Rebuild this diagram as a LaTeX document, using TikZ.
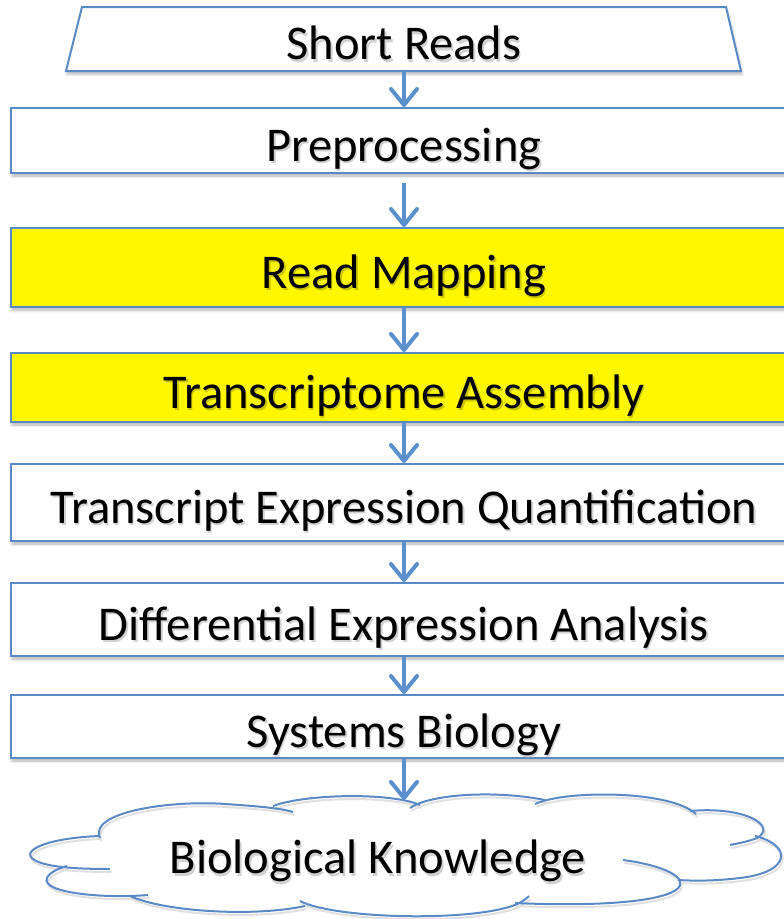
\documentclass[tikz,border=0pt]{standalone}
\usepackage{fontspec}
\setmainfont{Carlito}
\usetikzlibrary{arrows.meta,shadows.blur}

\definecolor{edgeblue}{HTML}{5A8AC6}
\definecolor{arrowblue}{HTML}{5B90CD}
\definecolor{hilite}{HTML}{FFF700}
\definecolor{cloudshade}{gray}{0.88}

% text with a soft drop shadow behind it
\newcommand\shadowtext[2][black!18]{%
  \makebox[0pt][l]{\hspace{1.5pt}\raisebox{-2.5pt}{\textcolor{#1}{#2}}}#2}

\tikzset{
  label font/.style={font=\fontsize{48.5}{56}\selectfont,
      text height=41pt, text depth=0pt},
  boxshadow/.style={blur shadow={shadow xshift=1pt, shadow yshift=-3pt,
      shadow blur radius=3pt, shadow opacity=30}},
  stage/.style={draw=edgeblue, line width=2pt, fill=white, boxshadow,
      minimum width=786pt, inner sep=0pt, label font},
  marked/.style={stage, fill=hilite},
  flow/.style={arrowblue, line width=4pt,
      -{Straight Barb[length=16pt, width=26pt, round]}},
  cloudline/.style={line width=2pt},
}

\begin{document}
\begin{tikzpicture}[x=1pt, y=-1pt]
\useasboundingbox (0,0) rectangle (784,919);

% input trapezoid
\draw[edgeblue, line width=2pt, fill=white, boxshadow]
  (82,7) -- (726,7) -- (741,71) -- (66,71) -- cycle;
\node[minimum width=660pt, minimum height=64pt, inner sep=0pt, label font]
  (sr) at (404,39) {\shadowtext{Short Reads}};

% pipeline stages
\node[stage, minimum height=65pt]  (pre) at (404,140.5) {\shadowtext{Preprocessing}};
\node[marked, minimum height=79pt] (rm)  at (404,267.5) {\shadowtext[hilite!80!black]{Read Mapping}};
\node[marked, minimum height=69pt] (ta)  at (404,387.5) {\shadowtext[hilite!80!black]{Transcriptome Assembly}};
\node[stage, minimum height=77pt]  (teq) at (404,502.5) {\shadowtext{Transcript Expression Quantification}};
\node[stage, minimum height=73pt]  (dea) at (404,619.5) {\shadowtext{Differential Expression Analysis}};
\node[stage, minimum height=63pt]  (sb)  at (404,726.5) {\shadowtext{Systems Biology}};

% cloud outline: overlapping bumps, first a faint shadow, then the outline
\foreach \sx/\sy/\c in {1.5/-3/cloudshade, 0/0/edgeblue}{
\begin{scope}[xshift=\sx pt, yshift=\sy pt, cloudline, draw=\c]
  \draw (100,838) .. controls (88,812) and (170,800) .. (225,804)
                  .. controls (255,806) and (280,808) .. (293,812);
  \draw (273,806) .. controls (305,794) and (390,792) .. (420,805);
  \draw (410,808) .. controls (430,794) and (495,790) .. (545,800);
  \draw (535,804) .. controls (565,790) and (670,790) .. (696,814);
  \draw (690,811) .. controls (745,806) and (778,826) .. (757,838)
                  .. controls (750,841) and (740,843) .. (730,845);
  \draw (755,836) .. controls (792,845) and (792,872) .. (740,878)
                  .. controls (715,881) and (695,881) .. (678,880);
  \draw (623,860) .. controls (662,865) and (692,878) .. (676,890)
                  .. controls (655,904) and (580,906) .. (515,903);
  \draw (300,901) .. controls (335,919) and (470,922) .. (515,905)
                  .. controls (522,902) and (526,899) .. (529,896);
  \draw (130,896) .. controls (165,912) and (255,917) .. (305,906);
  \draw (148,895) .. controls (100,899) and (30,892) .. (50,874)
                  .. controls (55,870) and (60,868) .. (67,866);
  \draw (100,836) .. controls (40,838) and (10,855) .. (45,864)
                  .. controls (60,868) and (85,869) .. (110,869);
\end{scope}}
\node[label font, inner sep=0pt] (bk) at (378,853)
  {\shadowtext{Biological Knowledge}};
\coordinate (cloudtop) at (404,800);

% connectors
\draw[flow] (sr.south) -- (pre.north);
\draw[flow] ([yshift=-9pt]pre.south) -- (rm.north);
\draw[flow] (rm.south) -- (ta.north);
\draw[flow] (ta.south) -- (teq.north);
\draw[flow] (teq.south) -- (dea.north);
\draw[flow] (dea.south) -- (sb.north);
\draw[flow] (sb.south) -- (cloudtop);
\end{tikzpicture}
\end{document}
